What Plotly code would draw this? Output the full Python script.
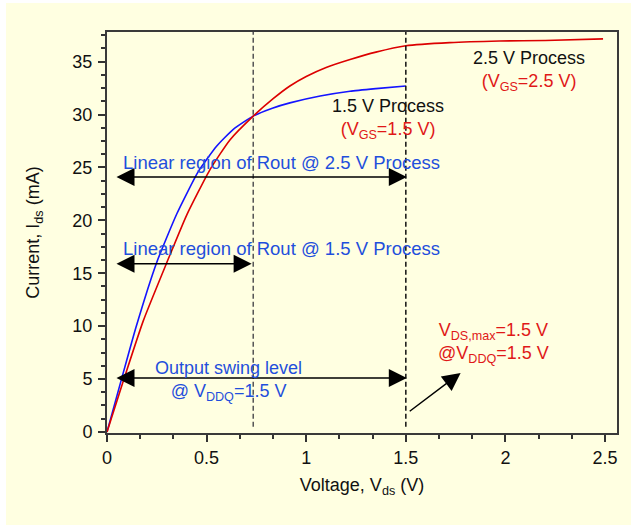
import plotly.graph_objects as go

# I-V characteristics (Vds in V, Ids in mA)
v_15 = [0, 0.07, 0.1455, 0.249, 0.35, 0.458, 0.55, 0.634, 0.734, 0.83, 0.918, 1.07, 1.22, 1.35, 1.5]
i_15 = [0, 4.8, 9.9, 16.0, 20.6, 24.6, 27.0, 28.6, 29.85, 30.6, 31.1, 31.75, 32.2, 32.45, 32.7]

v_25 = [0, 0.085, 0.182, 0.30, 0.40, 0.517, 0.617, 0.734, 0.834, 0.918, 1.0, 1.1, 1.22, 1.35, 1.5, 1.72, 1.97, 2.2, 2.49]
i_25 = [0, 5.0, 10.5, 16.0, 20.5, 24.8, 27.6, 29.85, 31.5, 32.7, 33.6, 34.45, 35.2, 35.9, 36.5, 36.8, 36.95, 37.0, 37.15]

# vertical reference voltages (knee of 1.5 V device, VDDQ)
ref_v = [0.734, 1.5]

# horizontal range arrows: start V, end V, level mA
span_v0 = [0.04, 0.04, 0.04]
span_v1 = [1.505, 0.726, 1.505]
span_i = [24.1, 15.9, 5.1]

# pointer arrow towards the VDS,max note (tail, head)
ptr_v = [1.512, 1.775]
ptr_i = [1.85, 5.58]

FONT = "Liberation Sans, Arial, sans-serif"
BLUE_TXT = "#1f4fdc"
RED_TXT = "#e01818"
BG = "#ffffe1"

fig = go.Figure()
fig.add_trace(go.Scatter(x=v_15, y=i_15, mode="lines",
                         line=dict(color="#1414ff", width=1.6, shape="spline", smoothing=0.5),
                         hoverinfo="skip", showlegend=False))
fig.add_trace(go.Scatter(x=v_25, y=i_25, mode="lines",
                         line=dict(color="#dc0000", width=1.6, shape="spline", smoothing=0.5),
                         hoverinfo="skip", showlegend=False))

shapes = [
    dict(type="rect", xref="paper", yref="paper", x0=-0.198, x1=1.05, y0=-0.2294, y1=1.0723,
         fillcolor=BG, line=dict(width=0), layer="below"),
]
for v, col in zip(ref_v, ["#555555", "#111111"]):
    shapes.append(dict(type="line", xref="x", yref="y", x0=v, x1=v, y0=0.5, y1=37.8,
                       line=dict(color=col, width=1.5, dash="5px,3px")))

annotations = []
for a, b, c in zip(span_v0, span_v1, span_i):
    annotations.append(dict(x=b, y=c, ax=a, ay=c, xref="x", yref="y", axref="x", ayref="y",
                            text="", showarrow=True, arrowhead=2, arrowside="end+start",
                            arrowsize=2.4, arrowwidth=1.5, arrowcolor="#000000"))
annotations.append(dict(x=ptr_v[1], y=ptr_i[1], ax=ptr_v[0], ay=ptr_i[0], xref="x", yref="y",
                        axref="x", ayref="y", text="", showarrow=True, arrowhead=2,
                        arrowsize=2.4, arrowwidth=1.5, arrowcolor="#000000"))


def label(x, y, text, color, size=18):
    return dict(x=x, y=y, xref="x", yref="y", text=text, showarrow=False,
                xanchor="center", yanchor="middle", font=dict(family=FONT, size=size, color=color))


annotations += [
    label(0.876, 25.45, "Linear region of Rout @ 2.5 V Process", BLUE_TXT, 18.5),
    label(0.876, 17.35, "Linear region of Rout @ 1.5 V Process", BLUE_TXT, 18.5),
    label(0.61, 4.8, "Output swing level<br>@ V<sub>DDQ</sub>=1.5 V", BLUE_TXT),
    label(1.41, 29.6, "1.5 V Process<br><span style='color:%s'>(V<sub>GS</sub>=1.5 V)</span>" % RED_TXT, "#111111"),
    label(2.116, 34.1, "2.5 V Process<br><span style='color:%s'>(V<sub>GS</sub>=2.5 V)</span>" % RED_TXT, "#111111"),
    label(1.938, 8.4, "V<sub>DS,max</sub>=1.5 V<br>@V<sub>DDQ</sub>=1.5 V", RED_TXT),
]

axis_common = dict(showgrid=False, zeroline=False, showline=True, mirror=True,
                   linecolor="#3a3a3a", linewidth=2, ticks="outside", ticklen=7,
                   tickwidth=1.5, tickcolor="#333333",
                   tickfont=dict(family=FONT, size=18, color="#111111"))

fig.update_layout(
    width=631, height=528,
    margin=dict(l=107, r=14, t=32, b=95),
    paper_bgcolor="#ffffff",
    plot_bgcolor="rgba(0,0,0,0)",
    shapes=shapes,
    annotations=annotations,
    xaxis=dict(range=[0, 2.56], tick0=0, dtick=0.5,
               minor=dict(ticks="outside", ticklen=4, tick0=0, dtick=1/6, tickcolor="#333333", tickwidth=1.5),
               title=dict(text="Voltage, V<sub>ds</sub> (V)", standoff=12,
                          font=dict(family=FONT, size=18, color="#111111")),
               **axis_common),
    yaxis=dict(range=[-0.1, 37.8], tick0=0, dtick=5, ticklabelstandoff=2,
               minor=dict(ticks="outside", ticklen=4, tick0=0, dtick=1.25, tickcolor="#333333", tickwidth=1.5),
               title=dict(text="Current, I<sub>ds</sub> (mA)", standoff=28,
                          font=dict(family=FONT, size=18, color="#111111")),
               **axis_common),
)

fig.write_html("out.html")
